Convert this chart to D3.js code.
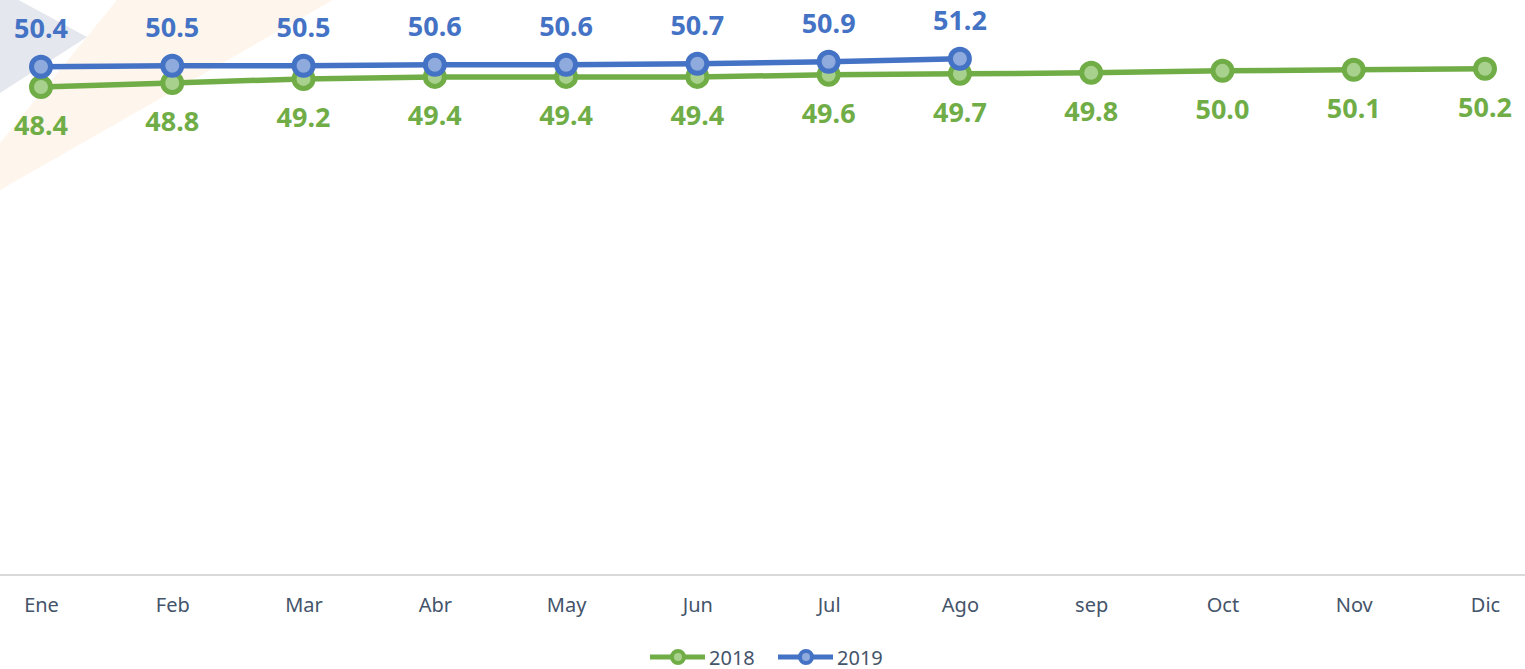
<!DOCTYPE html>
<html>
<head>
<meta charset="utf-8">
<script src="https://cdn.jsdelivr.net/npm/d3@7"></script>
<style>
  body { margin: 0; background: #fff; }
  svg { display: block; }
</style>
</head>
<body>
<div id="chart"></div>
<script>
const months = ["Ene", "Feb", "Mar", "Abr", "May", "Jun", "Jul", "Ago", "sep", "Oct", "Nov", "Dic"];
const values2018 = [48.4, 48.8, 49.2, 49.4, 49.4, 49.4, 49.6, 49.7, 49.8, 50.0, 50.1, 50.2];
const values2019 = [50.4, 50.5, 50.5, 50.6, 50.6, 50.7, 50.9, 51.2];
const seriesNames = ["2018", "2019"];

const width = 1525, height = 669;
const svg = d3.select("#chart").append("svg").attr("width", width).attr("height", height);

// faint watermark shapes in the corner
svg.append("polygon").attr("points", "117,0 333,0 0,190 0,143").attr("fill", "#fef6ec");
svg.append("polygon").attr("points", "0,-10 87,37 0,93").attr("fill", "#e4e7ed");

const x = d3.scalePoint().domain(months).range([41, 1485]);
const y = d3.scaleLinear().domain([0, 60]).range([575, -30]);

// axis
svg.append("line").attr("x1", 0).attr("x2", width).attr("y1", 575).attr("y2", 575)
    .attr("stroke", "#d9d9d9").attr("stroke-width", 2);
const xAxis = svg.append("g").attr("transform", "translate(0,575)")
    .call(d3.axisBottom(x).tickSize(0).tickPadding(23));
xAxis.select(".domain").remove();
xAxis.selectAll("text").attr("font-family", "Noto Sans, sans-serif").attr("font-size", 20).attr("fill", "#44546a");

const series = [
  { name: "2018", values: values2018, color: "#70ad47", fill: "#a9d18e", dy: 38 },
  { name: "2019", values: values2019, color: "#4472c4", fill: "#8faadc", dy: -39 }
];

const line = d3.line().x((d, i) => x(months[i])).y(d => y(d));

series.forEach(s => {
  const g = svg.append("g");
  g.append("path").datum(s.values).attr("d", line)
      .attr("fill", "none").attr("stroke", s.color).attr("stroke-width", 5.5);
  g.selectAll("circle").data(s.values).enter().append("circle")
      .attr("cx", (d, i) => x(months[i])).attr("cy", d => y(d))
      .attr("r", 9.5).attr("fill", s.fill).attr("stroke", s.color).attr("stroke-width", 5);
  g.selectAll("text").data(s.values).enter().append("text")
      .attr("x", (d, i) => x(months[i])).attr("y", d => y(d) + s.dy)
      .attr("text-anchor", "middle").attr("dominant-baseline", "central")
      .attr("font-family", "Noto Sans, sans-serif").attr("font-weight", "bold")
      .attr("font-size", 27).attr("fill", s.color)
      .text(d => d.toFixed(1));
});

// legend
const legend = svg.append("g").attr("transform", "translate(650,657)");
series.forEach((s, i) => {
  const lg = legend.append("g").attr("transform", `translate(${i * 128},0)`);
  lg.append("line").attr("x1", 0).attr("x2", 55).attr("stroke", s.color).attr("stroke-width", 5);
  lg.append("circle").attr("cx", 28).attr("r", 6).attr("fill", s.fill).attr("stroke", s.color).attr("stroke-width", 4);
  lg.append("text").attr("x", 59).attr("dominant-baseline", "central")
      .attr("font-family", "Noto Sans, sans-serif").attr("font-size", 20).attr("fill", "#44546a")
      .text(seriesNames[i]);
});
</script>
</body>
</html>
